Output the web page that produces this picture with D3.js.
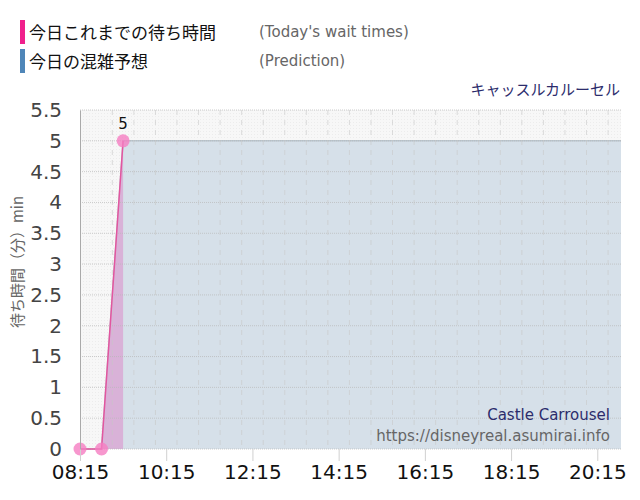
<!DOCTYPE html>
<html>
<head>
<meta charset="utf-8">
<script src="https://cdn.jsdelivr.net/npm/d3@7"></script>
<style>
  body { margin: 0; background: #fff; }
  text { font-family: "Noto Sans CJK JP", "DejaVu Sans", sans-serif; }
</style>
</head>
<body>
<div id="chart"></div>
<script>
// data
const waitTimes = ["08:15", "08:45", "09:15"];
const waitValues = [0, 0, 5];
const predTimes = ["08:15", "08:45", "09:15", "10:15", "11:15", "12:15", "13:15", "14:15",
  "15:15", "16:15", "17:15", "18:15", "19:15", "20:15", "20:48"];
const predValues = [0, 0, 5, 5, 5, 5, 5, 5, 5, 5, 5, 5, 5, 5, 5];
const yTicks = [0, 0.5, 1, 1.5, 2, 2.5, 3, 3.5, 4, 4.5, 5, 5.5];
const xTickLabels = ["08:15", "10:15", "12:15", "14:15", "16:15", "18:15", "20:15"];

const parse = d3.timeParse("%H:%M");
const latin = "DejaVu Sans, sans-serif";

const width = 640, height = 500;
const margin = { top: 110, right: 19, bottom: 51, left: 80 };
const w = width - margin.left - margin.right;
const h = height - margin.top - margin.bottom;

const svg = d3.select("#chart")
  .append("svg")
  .attr("width", width)
  .attr("height", height);

// dotted texture for plot background
const defs = svg.append("defs");
const pat = defs.append("pattern")
  .attr("id", "dots").attr("width", 3).attr("height", 3)
  .attr("patternUnits", "userSpaceOnUse");
pat.append("rect").attr("width", 3).attr("height", 3).attr("fill", "#f7f7f7");
pat.append("rect").attr("width", 1).attr("height", 1).attr("fill", "#ececec");

// legend
const legend = [
  { jp: "今日これまでの待ち時間", en: "(Today's wait times)", color: "#f0208c" },
  { jp: "今日の混雑予想", en: "(Prediction)", color: "#4f86b8" }
];
legend.forEach((l, i) => {
  const y = 20 + i * 29;
  svg.append("rect").attr("x", 20).attr("y", y).attr("width", 5).attr("height", 24)
    .attr("fill", l.color);
  svg.append("text").attr("x", 29).attr("y", y + 19).style("font-size", "17px")
    .style("fill", "#111").text(l.jp);
  svg.append("text").attr("x", 259).attr("y", y + 17).style("font-size", "15px")
    .style("fill", "#666").style("font-family", latin).text(l.en);
});

svg.append("text")
  .attr("x", 620).attr("y", 95)
  .attr("text-anchor", "end")
  .style("font-size", "15px")
  .style("fill", "#2c2c6c")
  .text("キャッスルカルーセル");

const g = svg.append("g")
  .attr("transform", `translate(${margin.left}, ${margin.top})`);

const x = d3.scaleTime()
  .domain([parse("08:15"), parse("20:48")])
  .range([0, w]);

const y = d3.scaleLinear()
  .domain([0, 5.5])
  .range([h, 0]);

// background
g.append("rect").attr("width", w).attr("height", h).attr("fill", "url(#dots)");

// prediction area
const pred = predTimes.map((t, i) => ({ t: parse(t), v: predValues[i] }));
g.append("path")
  .datum(pred)
  .attr("fill", "#d6e0e9")
  .attr("d", d3.area().x(d => x(d.t)).y0(h).y1(d => y(d.v)));
g.append("path")
  .datum(pred)
  .attr("fill", "none")
  .attr("stroke", "#b9c6cf")
  .attr("stroke-width", 1.5)
  .attr("d", d3.line().x(d => x(d.t)).y(d => y(d.v)));

// wait times area
const wait = waitTimes.map((t, i) => ({ t: parse(t), v: waitValues[i] }));
g.append("path")
  .datum(wait)
  .attr("fill", "#d9b2d8")
  .attr("d", d3.area().x(d => x(d.t)).y0(h).y1(d => y(d.v)));

// horizontal grid
g.selectAll(".hgrid")
  .data(yTicks)
  .enter().append("line")
  .attr("x1", 0).attr("x2", w)
  .attr("y1", d => y(d)).attr("y2", d => y(d))
  .style("stroke", "#b8b8b8")
  .style("stroke-opacity", 0.7)
  .style("stroke-dasharray", "1,1");

// vertical grid every 30 min
const halfHours = d3.timeMinute.every(30).range(parse("08:15"), parse("20:48"));
g.selectAll(".vgrid")
  .data(halfHours.slice(1))
  .enter().append("line")
  .attr("x1", d => x(d)).attr("x2", d => x(d))
  .attr("y1", 0).attr("y2", h)
  .style("stroke", "#c8c8c8")
  .style("stroke-opacity", 0.6)
  .style("stroke-dasharray", "5,5");

// wait times line and points
g.append("path")
  .datum(wait)
  .attr("fill", "none")
  .attr("stroke", "#e2569f")
  .attr("stroke-width", 1.5)
  .attr("d", d3.line().x(d => x(d.t)).y(d => y(d.v)));
g.selectAll(".pt")
  .data(wait)
  .enter().append("circle")
  .attr("cx", d => x(d.t)).attr("cy", d => y(d.v))
  .attr("r", 6.5)
  .attr("fill", "#f57dc2")
  .attr("fill-opacity", 0.8);
const last = wait[wait.length - 1];
g.append("text")
  .attr("x", x(last.t)).attr("y", y(last.v) - 12)
  .attr("text-anchor", "middle")
  .style("font-size", "15px")
  .style("font-family", latin)
  .style("fill", "#111")
  .text(last.v);

// x axis
const xTicks = xTickLabels.map(parse);
const xAxis = g.append("g")
  .attr("transform", `translate(0, ${h})`)
  .call(d3.axisBottom(x).tickValues(xTicks).tickFormat(d3.timeFormat("%H:%M"))
    .tickSize(12).tickPadding(4));
xAxis.select(".domain").remove();
xAxis.selectAll(".tick line").style("stroke", "#d0d0d0");
xAxis.selectAll("text")
  .style("font-size", "20px")
  .style("fill", "#111")
  .style("font-family", latin);

// y axis
const yAxis = g.append("g")
  .call(d3.axisLeft(y).tickValues(yTicks).tickFormat(d3.format("")).tickSize(0).tickPadding(18));
yAxis.select(".domain").style("stroke", "#aaa");
yAxis.selectAll("text")
  .style("font-size", "20px")
  .style("fill", "#444")
  .style("font-family", latin);

svg.append("text")
  .attr("transform", `translate(23, 262) rotate(-90)`)
  .attr("text-anchor", "middle")
  .style("font-size", "15px")
  .style("fill", "#666")
  .text("待ち時間（分）min");

// credits
svg.append("text")
  .attr("x", 610).attr("y", 420)
  .attr("text-anchor", "end")
  .style("font-size", "15px")
  .style("font-family", latin)
  .style("fill", "#2c2c6c")
  .text("Castle Carrousel");
svg.append("text")
  .attr("x", 610).attr("y", 441)
  .attr("text-anchor", "end")
  .style("font-size", "15px")
  .style("font-family", latin)
  .style("fill", "#666")
  .text("https://disneyreal.asumirai.info");
</script>
</body>
</html>
